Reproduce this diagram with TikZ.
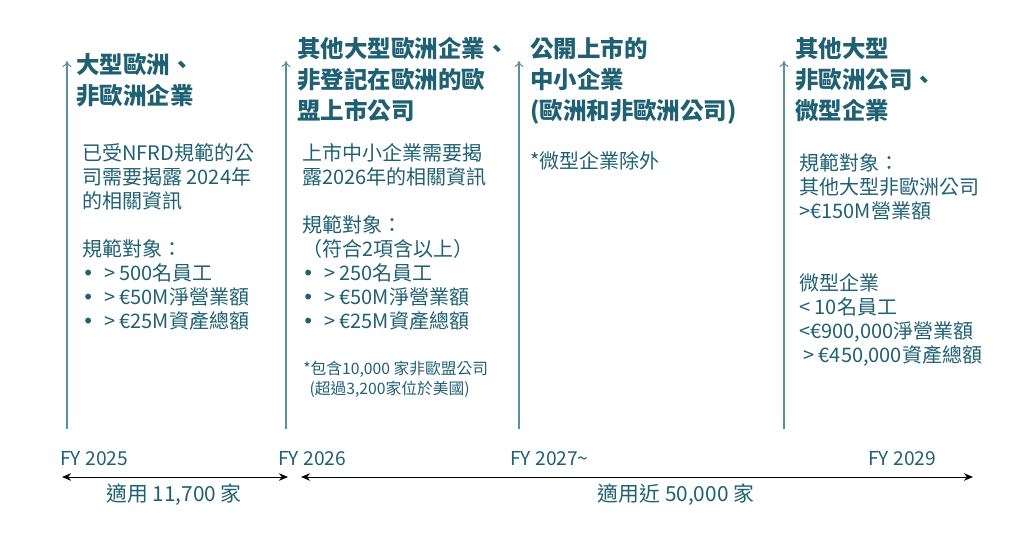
\documentclass[tikz,border=0pt]{standalone}
\usepackage{fontspec}
\setmainfont{Noto Sans CJK TC}
\newfontfamily\dotfont{DejaVu Sans}
\usepackage{xcolor}
\usetikzlibrary{arrows.meta}
\definecolor{tealtext}{HTML}{1F6072}
\definecolor{tealline}{HTML}{5B8F9D}
\newcommand{\itembul}{{\dotfont •}\hspace{0.5em}}

\begin{document}
\begin{tikzpicture}[x=0.75pt, y=-0.75pt, thin,
    head/.style = {anchor=north west, inner sep=0pt, align=left, text=tealtext, font=\fontsize{17.6}{23.2}\selectfont\bfseries},
    body/.style = {anchor=north west, inner sep=0pt, align=left, text=tealtext, font=\fontsize{15}{18}\selectfont},
    note/.style = {anchor=north west, inner sep=0pt, align=left, text=tealtext, font=\fontsize{11.8}{15}\selectfont},
    year/.style = {anchor=west, inner sep=0pt, text=tealtext, font=\fontsize{14.4}{16}\selectfont},
    count/.style = {inner sep=0pt, text=tealtext, font=\fontsize{15.6}{17}\selectfont},
    stage/.style = {draw=tealline, line width=0.8pt, -{To[length=1.6mm,width=2.4mm]}},
    span/.style = {draw=black, line width=0.7pt, {Stealth[length=2.4mm,width=2mm]}-{Stealth[length=2.4mm,width=2mm]}}]
    \useasboundingbox (0,0) rectangle (1024,539);

    % stage arrows
    \foreach \n/\x in {a/67, b/286, c/519, d/784} {
        \coordinate (\n-bot) at (\x,429);
        \coordinate (\n-top) at (\x,61);
        \draw[stage] (\n-bot) -- (\n-top);
    }

    % column 1
    \node[head] (h1) at (76,53) {大型歐洲、\\非歐洲企業};
    \node[body] (t1) at (82,143) {已受NFRD規範的公\\司需要揭露 2024年\\的相關資訊\\[18pt]
        規範對象：\\\itembul> 500名員工\\\itembul> €50M淨營業額\\\itembul> €25M資產總額};

    % column 2
    \node[head] (h2) at (297,37) {其他大型歐洲企業、\\非登記在歐洲的歐\\盟上市公司};
    \node[body] (t2) at (302,143) {上市中小企業需要揭\\露2026年的相關資訊\\[18pt]
        規範對象：\\（符合2項含以上）\\\itembul> 250名員工\\\itembul> €50M淨營業額\\\itembul> €25M資產總額};
    \node[note] (n2) at (303,361) {*包含10,000 家非歐盟公司\\\hspace{0.4em}(超過3,200家位於美國)};

    % column 3
    \node[head] (h3) at (530,37) {公開上市的\\中小企業\\(歐洲和非歐洲公司)};
    \node[body] (t3) at (530,151) {*微型企業除外};

    % column 4
    \node[head] (h4) at (795,37) {其他大型\\非歐洲公司、\\微型企業};
    \node[body] (t4) at (799,153) {規範對象：\\其他大型非歐洲公司\\>€150M營業額};
    \node[body] (m4) at (799,273) {微型企業\\< 10名員工\\<€900,000淨營業額\\\hspace{0.2em}> €450,000資產總額};

    % timeline
    \node[year] (y1) at (60,459) {FY 2025};
    \node[year] (y2) at (278,459) {FY 2026};
    \node[year] (y3) at (510,459) {FY 2027\textasciitilde};
    \node[year] (y4) at (868,459) {FY 2029};

    \coordinate (s1) at (62,477);
    \coordinate (e1) at (288,477);
    \coordinate (s2) at (301,477);
    \coordinate (e2) at (973,477);
    \draw[span] (s1) -- (e1);
    \draw[span] (s2) -- (e2);

    \node[count] (c1) at (174,495) {適用 11,700 家};
    \node[count] (c2) at (676,495) {適用近 50,000 家};

\end{tikzpicture}
\end{document}
